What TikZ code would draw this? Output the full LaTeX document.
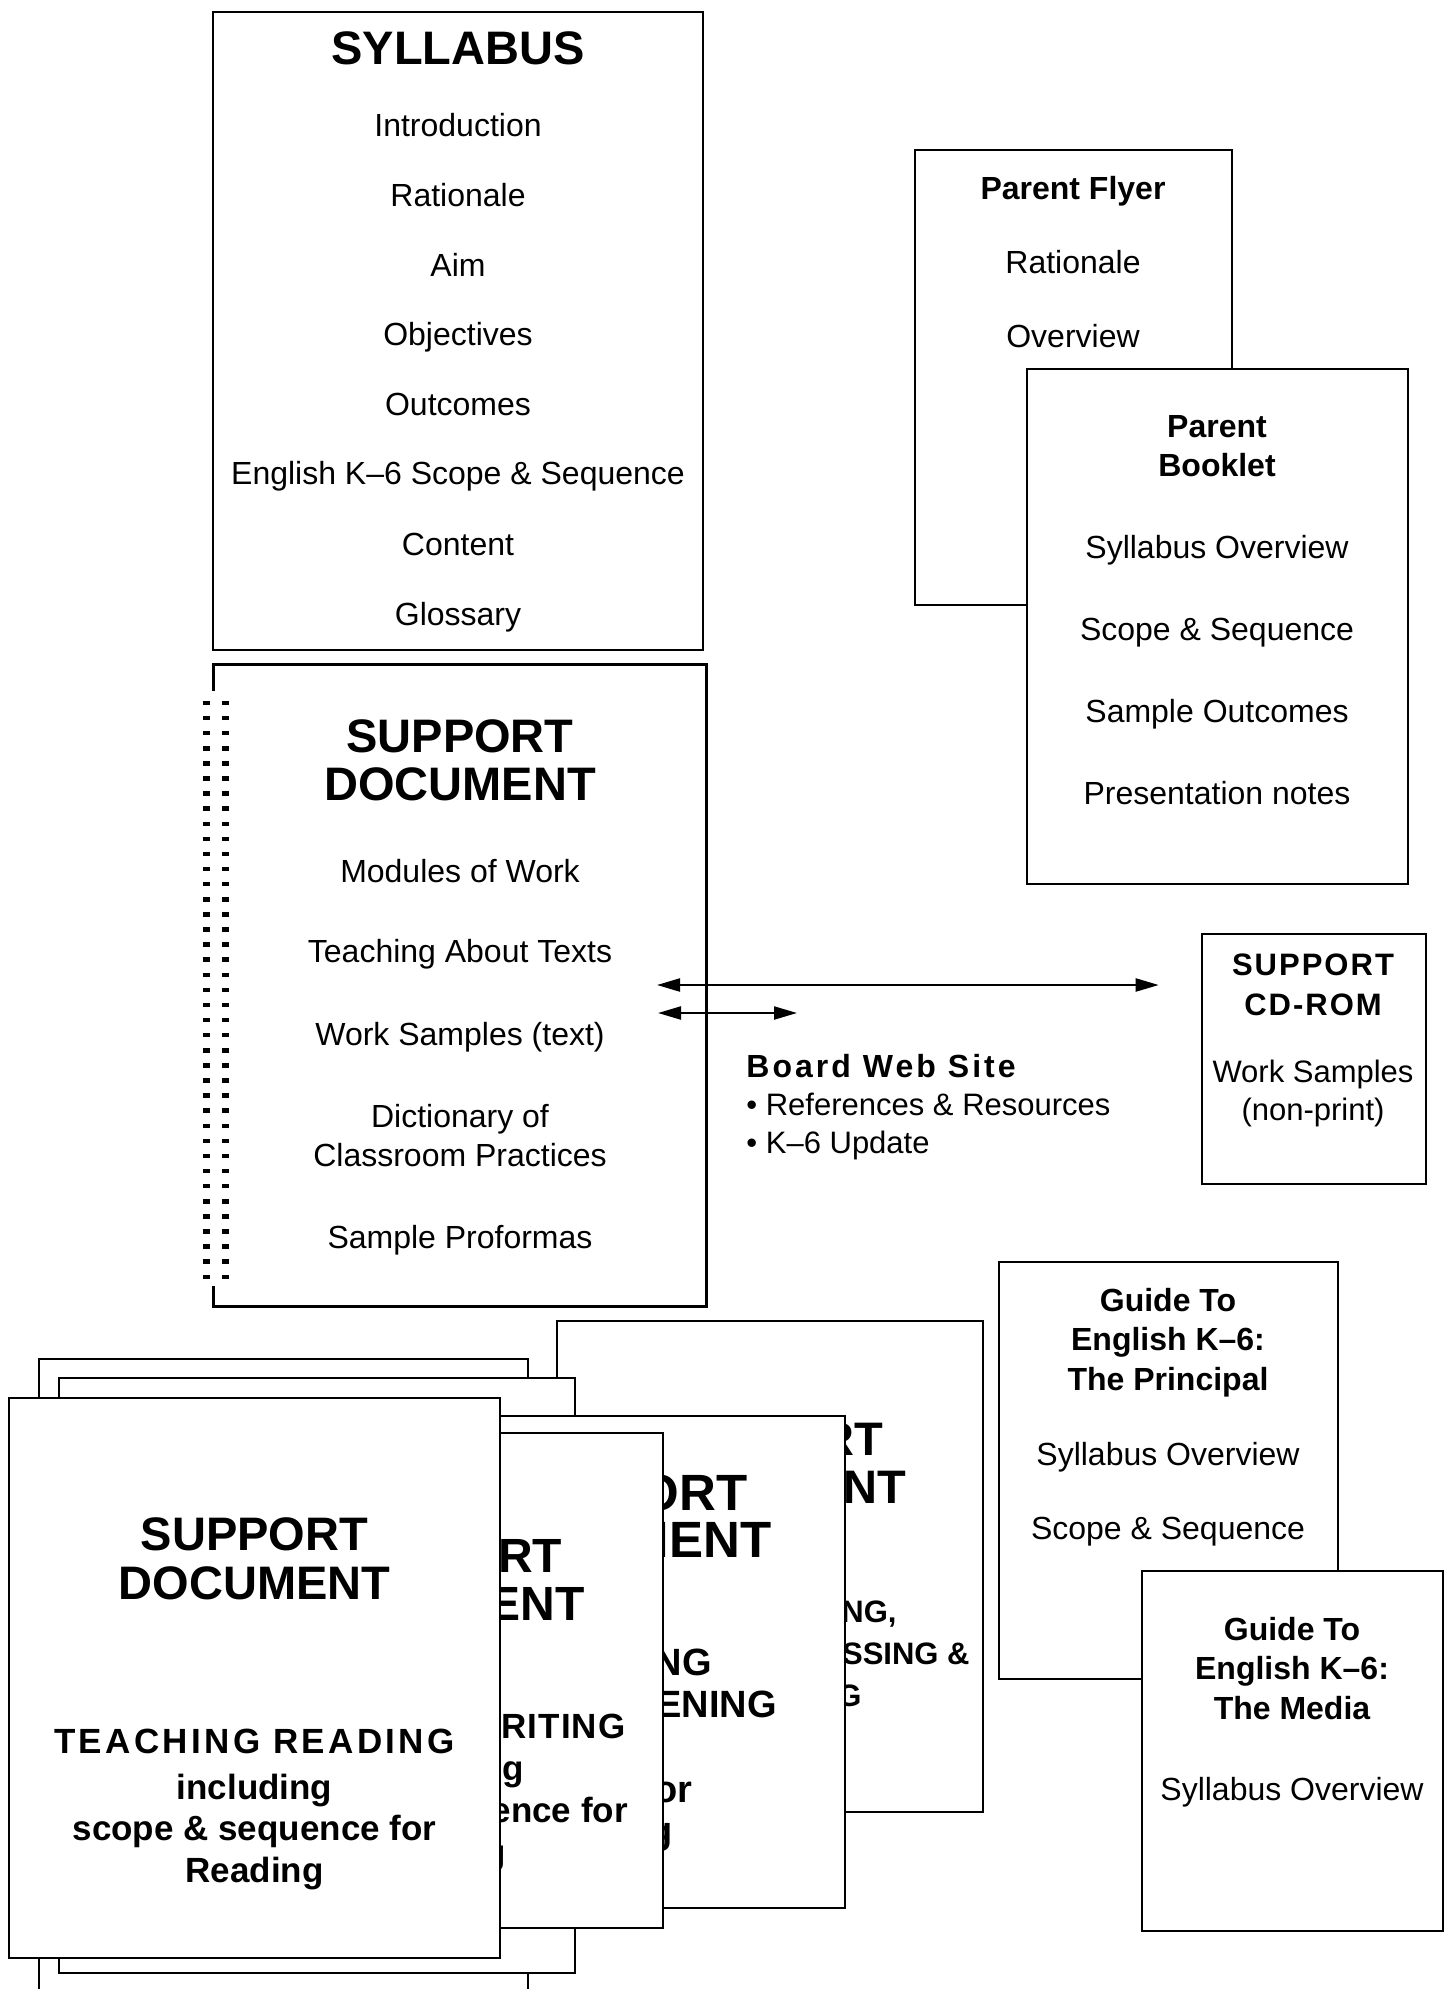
\documentclass[tikz,border=0pt]{standalone}
\usepackage{fontspec}
\setmainfont{Liberation Sans}
\newfontfamily\widefont[LetterSpace=9.5]{Liberation Sans}
\newfontfamily\midfont[LetterSpace=6.5]{Liberation Sans}
\newfontfamily\slimfont[LetterSpace=3]{Liberation Sans}
\usetikzlibrary{arrows.meta,fit,calc}

\begin{document}
\begin{tikzpicture}[x=0.5pt, y=-0.5pt]
\tikzstyle{page}=[rectangle,
                  draw=black,
                  fill=white,
                  inner sep=0pt,
                  line width=1.3pt]
\tikzstyle{entry}=[inner sep=0pt, anchor=base,
                   font=\fontsize{16}{19}\selectfont]
\tikzstyle{boldentry}=[entry, font=\bfseries\fontsize{16}{19}\selectfont]
\tikzstyle{heading}=[entry, font=\bfseries\fontsize{23.5}{28}\selectfont]
\tikzstyle{docline}=[entry, font=\bfseries\fontsize{17.5}{21}\selectfont]
\tikzstyle{link}=[line width=1.1pt,
                  {Triangle[length=11.5pt,width=6.5pt]}-{Triangle[length=11.5pt,width=6.5pt]}]

\useasboundingbox (0,0) rectangle (1452,1989);

% syllabus
\node[page, fit={(213,12) (703,650)}] (syllabus) {};
\node[heading] (sylhead) at (458,65) {SYLLABUS};
\foreach \y/\t [count=\i] in {137/Introduction, 207/Rationale, 277/Aim,
    346/Objectives, 416/Outcomes, 485/English K--6 Scope \& Sequence,
    555/Content, 625/Glossary}
  \node[entry] (syl-\i) at (458,\y) {\t};

% support document (bound at the left)
\node[page, draw=none, fill=none, fit={(215,666) (705,1305)}] (sdoc) {};
\draw[line width=1.3pt] ($(sdoc.north west)+(0,26)$) -- (sdoc.north west)
  -- (sdoc.north east) -- (sdoc.south east) -- (sdoc.south west)
  -- ($(sdoc.south west)+(0,-20)$);
\foreach \k in {0,...,38} {
  \fill (202.5,{700.75+15.1*\k}) rectangle +(7,4.5);
  \fill (221.5,{700.75+15.1*\k}) rectangle +(7,4.5);
}
\node[heading] (sdochead) at (460,752) {SUPPORT};
\node[heading] (sdochead2) at (460,800) {DOCUMENT};
\foreach \y/\t [count=\i] in {882/Modules of Work, 962/Teaching About Texts,
    1045/Work Samples (text), 1127/Dictionary of, 1166/Classroom Practices,
    1248/Sample Proformas}
  \node[entry] (sdoc-\i) at (460,\y) {\t};

% parent flyer and booklet
\node[page, fit={(915,150) (1232,605)}] (flyer) {};
\node[boldentry] (flyerhead) at (1073,200) {Parent Flyer};
\node[entry] (flyer-1) at (1073,274) {Rationale};
\node[entry] (flyer-2) at (1073,348) {Overview};

\node[page, fit={(1027,369) (1408,884)}] (booklet) {};
\node[boldentry] (bookhead) at (1217,438) {Parent};
\node[boldentry] (bookhead2) at (1217,477) {Booklet};
\foreach \y/\t [count=\i] in {559/Syllabus Overview, 640/Scope \& Sequence,
    722/Sample Outcomes, 804/Presentation notes}
  \node[entry] (book-\i) at (1217,\y) {\t};

% cd-rom
\node[page, fit={(1202,934) (1426,1184)}] (cdrom) {};
\node[boldentry, font=\midfont\bfseries\fontsize{15.5}{19}\selectfont] (cdhead) at (1313,975) {SUPPORT};
\node[boldentry, font=\midfont\bfseries\fontsize{15.5}{19}\selectfont] (cdhead2) at (1313,1015) {CD-ROM};
\node[entry, font=\fontsize{15.5}{19}\selectfont] (cd-1) at (1313,1082) {Work Samples};
\node[entry, font=\fontsize{15.5}{19}\selectfont] (cd-2) at (1313,1120) {(non-print)};

% web site
\node[boldentry, anchor=base west, font=\widefont\bfseries\fontsize{16}{19}\selectfont] (web) at (746,1077) {Board Web Site};
\node[entry, anchor=base west, font=\fontsize{15.5}{19}\selectfont] (web-1) at (746,1115) {\textbullet\ References \& Resources};
\node[entry, anchor=base west, font=\fontsize{15.5}{19}\selectfont] (web-2) at (746,1153) {\textbullet\ K--6 Update};

\coordinate (sdocport) at (657,985);
\coordinate (sdocport2) at (658,1013);
\coordinate (cdport) at ($(cdrom.west |- sdocport)+(-42,0)$);
\coordinate (webport) at (797,1013);
\draw[link] (sdocport) -- (cdport);
\draw[link] (sdocport2) -- (webport);

% guides
\node[page, fit={(999,1262) (1338,1679)}] (principal) {};
\node[boldentry] (prinhead) at (1168,1311) {Guide To};
\node[boldentry] (prinhead2) at (1168,1350) {English K--6:};
\node[boldentry] (prinhead3) at (1168,1390) {The Principal};
\node[entry] (prin-1) at (1168,1465) {Syllabus Overview};
\node[entry] (prin-2) at (1168,1539) {Scope \& Sequence};

\node[page, fit={(1142,1571) (1443,1931)}] (media) {};
\node[boldentry] (medhead) at (1292,1640) {Guide To};
\node[boldentry] (medhead2) at (1292,1679) {English K--6:};
\node[boldentry] (medhead3) at (1292,1719) {The Media};
\node[entry] (med-1) at (1292,1800) {Syllabus Overview};

% stack of support documents, back to front
\node[page, fit={(557,1321) (983,1812)}] (viewdoc) {};
\node[heading] (viewhead) at (770,1455) {SUPPORT};
\node[heading] (viewhead2) at (770,1503) {DOCUMENT};
\node[docline, anchor=base east, font=\bfseries\fontsize{15.5}{19}\selectfont] (view-1) at (897,1622) {TEACHING VIEWING,};
\node[docline, anchor=base east, font=\bfseries\fontsize{15.5}{19}\selectfont] (view-2) at (970,1664) {THINKING, PROCESSING \&};
\node[docline, anchor=base east, font=\bfseries\fontsize{15.5}{19}\selectfont] (view-3) at (862,1706) {RESPONDING};

\node[page, fit={(39,1359) (528,2010)}] (backpage) {};
\node[page, fit={(59,1378) (575,1973)}] (midpage) {};

\node[page, fit={(403,1416) (845,1908)}] (talkdoc) {};
\node[heading, font=\bfseries\fontsize{25.5}{30}\selectfont] (talkhead) at (624,1510) {SUPPORT};
\node[heading, font=\bfseries\fontsize{25.5}{30}\selectfont] (talkhead2) at (624,1557) {DOCUMENT};
\node[docline, anchor=base east, font=\bfseries\fontsize{19}{23}\selectfont] (talk-1) at (712,1675) {TALKING};
\node[docline, anchor=base east, font=\bfseries\fontsize{19}{23}\selectfont] (talk-2) at (777,1717) {AND LISTENING};
\node[docline, anchor=base east, font=\bfseries\fontsize{19}{23}\selectfont] (talk-3) at (693,1802) {scope \& sequence for};
\node[docline, anchor=base east, font=\bfseries\fontsize{19}{23}\selectfont] (talk-4) at (673,1843) {Talking and Listening};

\node[page, fit={(229,1433) (663,1928)}] (writedoc) {};
\node[heading, font=\bfseries\fontsize{24}{29}\selectfont] (writehead) at (446,1572) {SUPPORT};
\node[heading, font=\bfseries\fontsize{24}{29}\selectfont] (writehead2) at (446,1620) {DOCUMENT};
\node[docline, font=\slimfont\bfseries\fontsize{17.5}{21}\selectfont] (write-1) at (446,1738) {TEACHING WRITING};
\node[docline] (write-2) at (446,1780) {including};
\node[docline] (write-3) at (446,1822) {scope \& sequence for};
\node[docline] (write-4) at (446,1864) {Writing};

\node[page, fit={(9,1398) (500,1958)}] (readdoc) {};
\node[heading] (readhead) at (254.5,1550) {SUPPORT};
\node[heading] (readhead2) at (254.5,1599) {DOCUMENT};
\node[docline, font=\widefont\bfseries\fontsize{17.5}{21}\selectfont] (read-1) at (254.5,1753) {TEACHING READING};
\node[docline] (read-2) at (254.5,1799) {including};
\node[docline] (read-3) at (254.5,1840) {scope \& sequence for};
\node[docline] (read-4) at (254.5,1882) {Reading};
\end{tikzpicture}
\end{document}
